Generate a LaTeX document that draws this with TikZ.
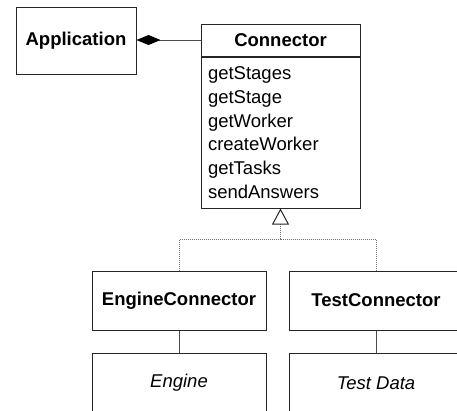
\documentclass[tikz,border=0pt]{standalone}
\usepackage{fontspec}
\setmainfont{Liberation Sans}
\usetikzlibrary{arrows.meta}

\tikzset{
  classbox/.style={draw=black!85, line width=1pt, rectangle, inner sep=0pt},
  link/.style={draw=black!70, line width=1pt},
  realize/.style={draw=black!55, line width=1pt, dash pattern=on 1pt off 1pt},
}

\begin{document}
\begin{tikzpicture}[x=1pt, y=-1pt, font=\fontsize{18.5}{23.7}\selectfont]

\clip (0,0) rectangle (457,410);

\begin{scope}[every node/.style={classbox}]
  \node[minimum width=120pt, minimum height=67pt] (app) at ( 76.0, 40.5) {\textbf{Application}};
  \node[minimum width=159pt, minimum height=32pt] (conn) at (280.5, 40.0) {\textbf{Connector}};
  \node[minimum height=151pt, text width=145pt, inner xsep=7pt, align=left, anchor=north] (ops) at (conn.south)
    {getStages\\getStage\\getWorker\\createWorker\\getTasks\\sendAnswers};

  \node[minimum width=174pt, minimum height=59pt] (engconn)  at (179.0, 300.5) {\textbf{EngineConnector}};
  \node[minimum width=174pt, minimum height=59pt] (testconn) at (376.0, 300.5) {\textbf{TestConnector}};
  \node[minimum width=174pt, minimum height=60pt] (engine)   at (179.0, 383.0) {\textit{Engine}};
  \node[minimum width=174pt, minimum height=60pt] (testdata) at (376.0, 383.0) {\textit{Test Data}};
\end{scope}

\coordinate (join) at (280.5, 239.0);

\path[link, -{Diamond[length=24pt, width=10pt, color=black]}] (conn.west) -- (conn.west -| app.east);

\path[realize] (engconn.north) |- (join);
\path[realize] (testconn.north) |- (join);
\path[realize, -{Triangle[open, length=16pt, width=17pt, color=black!85]}] (join) -- (ops.south);

\path[link] (engconn) -- (engine);
\path[link] (testconn) -- (testdata);

\end{tikzpicture}
\end{document}
